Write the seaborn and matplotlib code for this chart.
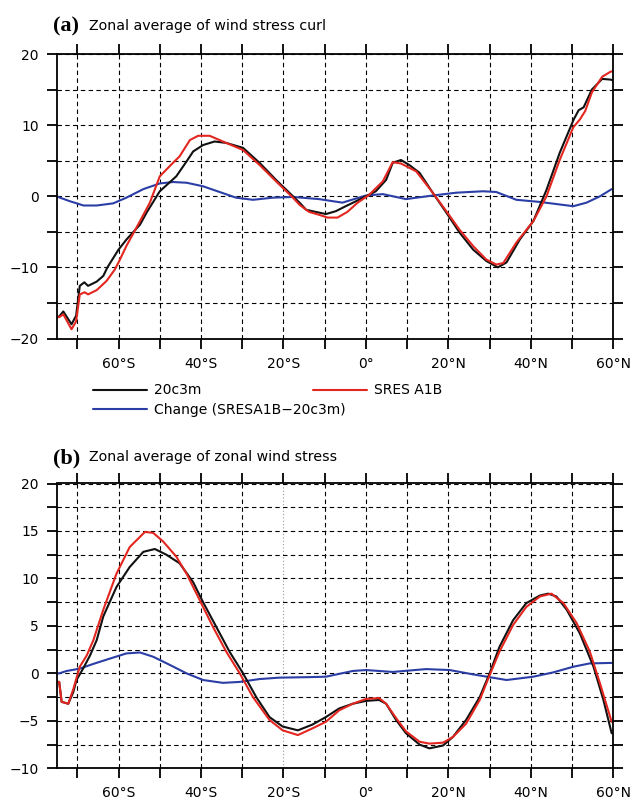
import numpy as np
import pandas as pd
import matplotlib
matplotlib.use("Agg")
import matplotlib.pyplot as plt
import seaborn as sns
from matplotlib.lines import Line2D

# ---------------- data ----------------
# (a) zonal average of wind stress curl
curl_lon_20c3m = [-75.0, -74.4, -73.4, -71.4, -70.3, -69.4, -68.3, -67.4, -65.3, -63.7,
                  -62.7, -60.0, -58.1, -54.8, -53.2, -50.0, -46.0, -43.5, -41.9, -39.5,
                  -36.7, -33.9, -29.8, -25.8, -21.8, -17.7, -16.1, -14.5, -12.2, -9.7,
                  -7.3, -4.9, -2.4, 0.0, 2.4, 4.9, 6.5, 8.5, 10.5, 13.0,
                  16.2, 19.5, 22.7, 26.0, 29.2, 32.0, 34.1, 37.3, 40.6, 43.8,
                  47.0, 50.4, 51.6, 52.8, 54.8, 57.3, 59.3, 60.0]
curl_20c3m = [-17.0, -16.9, -16.2, -18.0, -16.8, -12.6, -12.1, -12.6, -12.0, -11.2,
              -10.0, -7.5, -6.1, -4.0, -2.3, 0.7, 2.8, 4.9, 6.3, 7.2,
              7.7, 7.5, 6.8, 4.7, 2.3, 0.0, -0.9, -1.9, -2.2, -2.5,
              -2.1, -1.4, -0.7, 0.0, 0.7, 2.3, 4.7, 5.1, 4.4, 3.3,
              0.5, -2.3, -5.1, -7.5, -9.1, -10.0, -9.3, -6.1, -3.5, 0.9,
              6.1, 10.8, 12.1, 12.5, 15.0, 16.5, 16.4, 16.3]

curl_lon_a1b = [-75.0, -74.4, -73.4, -71.4, -70.3, -69.4, -68.2, -67.4, -65.3, -62.9,
                -60.9, -60.0, -58.1, -54.8, -52.4, -50.0, -46.8, -45.2, -42.7, -40.7,
                -37.9, -34.7, -29.8, -25.8, -21.8, -17.7, -16.1, -13.8, -11.4, -9.3,
                -6.9, -4.5, -2.0, 0.8, 4.1, 6.5, 8.5, 12.2, 16.2, 19.5,
                22.7, 26.0, 29.2, 31.6, 33.3, 36.5, 40.6, 43.8, 47.0, 50.3,
                51.9, 53.2, 54.8, 57.3, 59.3, 60.0]
curl_a1b = [-17.0, -17.0, -16.6, -18.7, -17.6, -13.8, -13.5, -13.8, -13.2, -11.9,
            -10.3, -9.3, -7.0, -3.5, -0.9, 2.8, 4.7, 5.6, 7.9, 8.5,
            8.5, 7.7, 6.5, 4.4, 2.1, -0.2, -1.2, -2.2, -2.6, -3.0,
            -3.0, -2.2, -0.9, 0.2, 2.1, 4.8, 4.6, 3.5, 0.5, -2.1,
            -4.7, -7.0, -8.9, -9.6, -9.4, -6.5, -3.5, 0.0, 5.1, 9.7,
            10.8, 12.0, 14.6, 16.8, 17.5, 17.6]

curl_lon_change = [-75.0, -74.2, -71.8, -68.5, -65.3, -61.3, -58.1, -54.0, -50.0, -46.8,
                   -43.5, -39.5, -35.5, -31.5, -27.4, -22.6, -17.7, -11.4, -5.7, 0.0,
                   4.1, 9.7, 16.2, 21.9, 28.4, 31.6, 36.5, 42.2, 50.3, 53.5,
                   56.8, 59.6]
curl_change = [0.0, -0.2, -0.7, -1.3, -1.3, -1.0, -0.2, 1.0, 1.8, 2.0,
               1.9, 1.4, 0.6, -0.2, -0.5, -0.2, -0.1, -0.4, -0.9, 0.1,
               0.3, -0.4, 0.1, 0.5, 0.7, 0.6, -0.5, -0.8, -1.4, -0.9,
               0.0, 1.0]

# (b) zonal average of zonal wind stress
tau_lon_20c3m = [-75.0, -74.4, -73.8, -72.2, -71.0, -70.2, -68.6, -66.9, -65.3, -63.7,
                 -60.5, -57.3, -54.0, -51.2, -48.4, -45.2, -41.9, -39.5, -36.3, -33.1,
                 -29.8, -26.6, -23.4, -20.2, -16.5, -13.0, -9.7, -6.5, -3.2, 0.0,
                 3.2, 4.9, 7.3, 9.7, 13.0, 15.4, 18.7, 21.1, 24.3, 27.6,
                 30.0, 32.4, 35.7, 38.9, 42.2, 44.2, 46.2, 48.7, 51.9, 55.2,
                 57.6, 59.6]
tau_20c3m = [-0.9, -0.9, -3.0, -3.2, -2.0, -0.7, 0.5, 1.9, 3.5, 6.0,
             9.1, 11.2, 12.8, 13.1, 12.5, 11.6, 9.6, 7.5, 4.9, 2.3,
             0.0, -2.5, -4.6, -5.6, -6.0, -5.4, -4.6, -3.7, -3.2, -2.9,
             -2.8, -3.2, -4.9, -6.3, -7.5, -7.9, -7.6, -6.7, -4.9, -2.5,
             0.0, 2.8, 5.6, 7.4, 8.2, 8.4, 8.1, 6.7, 4.2, 0.7,
             -2.8, -6.3]

tau_lon_a1b = [-75.0, -74.4, -73.8, -72.2, -71.0, -69.4, -67.7, -66.1, -63.7, -60.5,
               -57.3, -53.6, -51.6, -49.2, -46.0, -43.5, -40.3, -37.1, -33.9, -30.6,
               -27.4, -23.4, -20.2, -16.5, -13.0, -9.7, -6.5, -3.2, 0.0, 3.2,
               4.9, 7.3, 9.7, 13.0, 15.4, 18.7, 21.1, 24.3, 27.6, 30.0,
               32.4, 35.7, 38.9, 42.2, 45.0, 47.9, 51.1, 54.3, 56.8, 59.6]
tau_a1b = [-0.9, -0.9, -3.0, -3.2, -1.7, 0.7, 1.9, 3.5, 6.7, 10.5,
           13.3, 14.9, 14.8, 13.9, 12.3, 10.5, 7.7, 4.9, 2.3, 0.0,
           -2.5, -4.9, -6.0, -6.5, -5.8, -5.1, -3.9, -3.2, -2.7, -2.6,
           -3.2, -4.7, -6.1, -7.2, -7.4, -7.3, -6.7, -5.3, -2.8, -0.2,
           2.3, 5.1, 7.0, 8.1, 8.4, 7.4, 5.3, 2.3, -1.1, -5.1]

tau_lon_change = [-75.0, -74.4, -72.6, -69.4, -66.1, -62.5, -58.1, -54.8, -51.6, -47.6,
                  -43.5, -39.5, -34.7, -30.6, -25.8, -21.0, -14.1, -9.7, -3.2, 0.0,
                  6.5, 14.6, 20.3, 25.9, 30.0, 34.1, 40.6, 45.4, 50.3, 54.3,
                  59.6]
tau_change = [0.0, 0.0, 0.25, 0.5, 1.0, 1.5, 2.1, 2.2, 1.75, 0.9,
              0.0, -0.7, -1.0, -0.9, -0.6, -0.45, -0.4, -0.35, 0.25, 0.35,
              0.15, 0.45, 0.35, -0.1, -0.4, -0.7, -0.35, 0.1, 0.7, 1.05,
              1.1]

series_labels = ["20c3m", "SRES A1B", "Change (SRESA1B\u221220c3m)"]
title_a = "Zonal average of wind stress curl"
title_b = "Zonal average of zonal wind stress"
x_ticks = [-70, -60, -50, -40, -30, -20, -10, 0, 10, 20, 30, 40, 50, 60]
ya_ticks = [-20, -15, -10, -5, 0, 5, 10, 15, 20]
yb_ticks = [-10, -7.5, -5, -2.5, 0, 2.5, 5, 7.5, 10, 12.5, 15, 17.5, 20]

# ---------------- style ----------------
sns.set_style("ticks")
plt.rcParams["font.family"] = ["DejaVu Sans"]
plt.rcParams["axes.unicode_minus"] = True
plt.rcParams["text.color"] = "black"
plt.rcParams["xtick.color"] = "black"
plt.rcParams["ytick.color"] = "black"

BLACK = "#111111"
RED = "#e3261f"
BLUE = "#2b3ea6"
LW = 1.5

W, H = 634, 801
fig = plt.figure(figsize=(W / 100, H / 100), dpi=100)


def rect(l, t, r, b):
    return [l / W, 1 - b / H, (r - l) / W, (b - t) / H]


ax1 = fig.add_axes(rect(56.7, 54.0, 613.3, 338.5))
ax2 = fig.add_axes(rect(56.7, 483.5, 613.3, 768.3))


def lon_label(v):
    if v == 0:
        return "0\u00b0"
    if v % 20 != 0:
        return ""
    return f"{abs(v)}\u00b0{'S' if v < 0 else 'N'}"


def num_label(v, step):
    if abs(v / step - round(v / step)) > 1e-6:
        return ""
    return f"{int(round(v))}".replace("-", "\u2212")


def draw(ax, lon, val, color):
    df = pd.DataFrame({"lon": lon, "val": val})
    sns.lineplot(data=df, x="lon", y="val", color=color, lw=LW, ax=ax,
                 sort=False, estimator=None, legend=False)


draw(ax1, curl_lon_change, curl_change, BLUE)
draw(ax1, curl_lon_20c3m, curl_20c3m, BLACK)
draw(ax1, curl_lon_a1b, curl_a1b, RED)

draw(ax2, tau_lon_change, tau_change, BLUE)
draw(ax2, tau_lon_20c3m, tau_20c3m, BLACK)
draw(ax2, tau_lon_a1b, tau_a1b, RED)

for ax, yt, step, ylim in ((ax1, ya_ticks, 10, (-20, 20)), (ax2, yb_ticks, 5, (-10, 20))):
    ax.set_xlim(-75, 60)
    ax.set_ylim(*ylim)
    ax.set_xticks(x_ticks)
    ax.set_xticklabels([lon_label(v) for v in x_ticks])
    ax.set_yticks(yt)
    ax.set_yticklabels([num_label(v, step) for v in yt])
    ax.set_xlabel("")
    ax.set_ylabel("")
    ax.tick_params(direction="out", length=7, width=1.3, colors="black",
                   top=True, right=True, labelsize=10, pad=6)
    for s in ax.spines.values():
        s.set_visible(True)
        s.set_linewidth(1.3)
        s.set_color("black")
    ax.grid(True, color="black", linestyle=(0, (4, 3)), linewidth=0.8)
    ax.set_facecolor("white")

# the 20S grid line in panel (b) is lighter in the reference
gl = ax2.get_xgridlines()[x_ticks.index(-20)]
gl.set_color("0.6")
gl.set_linestyle((0, (1, 2)))

# titles
fig.text(53 / W, 1 - 31.7 / H, "(a)", family="Liberation Serif", weight="bold",
         fontsize=16, va="baseline", ha="left", color="black")
fig.text(89 / W, 1 - 30.0 / H, title_a, fontsize=10.2, va="baseline", ha="left",
         color="black")
fig.text(53 / W, 1 - 463.0 / H, "(b)", family="Liberation Serif", weight="bold",
         fontsize=16, va="baseline", ha="left", color="black")
fig.text(89 / W, 1 - 460.7 / H, title_b, fontsize=10.2, va="baseline", ha="left",
         color="black")

# legend
h_black = Line2D([], [], color=BLACK, lw=LW)
h_red = Line2D([], [], color=RED, lw=LW)
h_blue = Line2D([], [], color=BLUE, lw=LW)
common = dict(loc="upper left", frameon=False, borderpad=0, borderaxespad=0,
              handlelength=3.9, handletextpad=0.5, labelspacing=0.42, fontsize=10,
              labelcolor="black")
fig.legend([h_black, h_blue], [series_labels[0], series_labels[2]],
           bbox_to_anchor=(93 / W, 1 - 383.5 / H), **common)
fig.legend([h_red], [series_labels[1]],
           bbox_to_anchor=(313 / W, 1 - 383.5 / H), **common)

fig.savefig("out.png", dpi=100, facecolor="white")
